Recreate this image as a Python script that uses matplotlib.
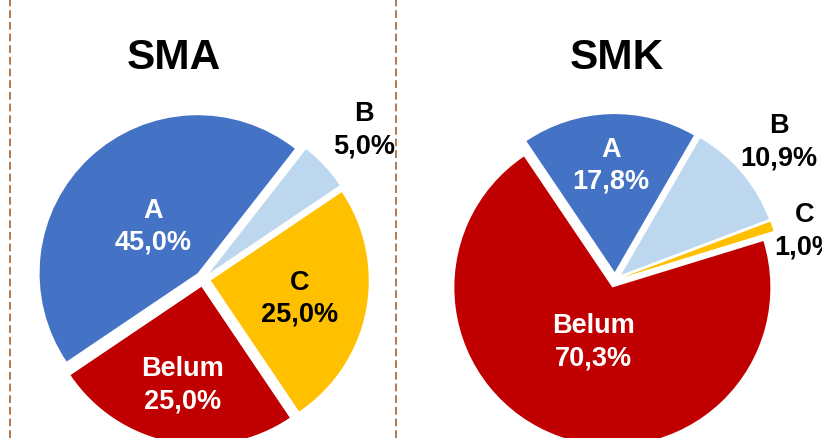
import numpy as np
import matplotlib
matplotlib.use('Agg')
import matplotlib.pyplot as plt

plt.rcParams['font.family'] = ['Liberation Sans', 'DejaVu Sans']

categories = ['A', 'B', 'C', 'Belum']
sma_values = [45.0, 5.0, 25.0, 25.0]
smk_values = [17.8, 10.9, 1.0, 70.3]
titles = ['SMA', 'SMK']

colors = ['#4472C4', '#BDD7EE', '#FFC000', '#C00000']

W, H = 822, 439
R = 158.0  # pie radius in pixels

fig = plt.figure(figsize=(W / 100, H / 100), dpi=100)


def draw_pie(values, title, cx, cy, start, label_dist, label_dy, text_colors, title_x):
    ax = fig.add_axes([0, 0, 1, 1])
    ax.axis('off')
    wedges, _ = ax.pie(values, colors=colors, startangle=start, counterclock=False,
                       explode=[0.05] * len(values), radius=1.0,
                       wedgeprops=dict(linewidth=0))
    ax.set_aspect('auto')
    ax.set_xlim(-cx / R, (W - cx) / R)
    ax.set_ylim(-(H - cy) / R, cy / R)
    for w, cat, v, d, dy, tc in zip(wedges, categories, values, label_dist,
                                    label_dy, text_colors):
        mid = np.deg2rad((w.theta1 + w.theta2) / 2)
        x, y = d * np.cos(mid), d * np.sin(mid) - dy / R
        txt = cat + '\n' + ('%.1f%%' % v).replace('.', ',')
        ax.text(x, y, txt, ha='center', va='center', fontsize=19.5,
                fontweight='bold', color=tc, linespacing=1.3)
    ax.text((title_x - cx) / R, (cy - 58) / R, title,
            ha='center', va='center', fontsize=30.5, fontweight='bold', color='black')
    return ax


# SMA: A starts at 236 deg clockwise from top
draw_pie(sma_values, titles[0], 203, 280, 90 - 236, [0.46, 1.39, 0.62, 0.68],
         [0, 0, 0, 0], ['white', 'black', 'black', 'white'], 174)
# SMK: A starts at -34 deg clockwise from top
draw_pie(smk_values, titles[1], 615, 281, 90 + 34, [0.73, 1.36, 1.27, 0.41],
         [0, 0, 15, 0], ['white', 'black', 'black', 'white'], 617)

for xp in [9.5, 395.5]:
    fig.add_artist(plt.Line2D([xp / W, xp / W], [0, 1], transform=fig.transFigure,
                              color='#B07A50', linewidth=1.4, linestyle=(0, (4, 2))))

plt.savefig('out.png', dpi=100)
